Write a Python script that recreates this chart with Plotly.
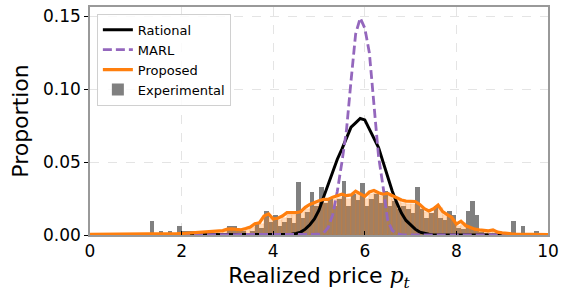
import plotly.graph_objects as go

# ---------------- data ----------------
bin_width = 0.1
# Experimental histogram (proportion per 0.1 bin, bins start at 0.0)
experimental = [
    0, 0, 0, 0, 0, 0, 0, 0, 0, 0,
    0, 0, 0, 0.0096, 0, 0.0027, 0, 0.0027, 0, 0.0062,
    0.0027, 0.0027, 0.0027, 0, 0, 0.0014, 0, 0.0014, 0, 0,
    0.0062, 0.0062, 0.0027, 0.0027, 0, 0.0027, 0.0078, 0.005, 0.0164, 0.009,
    0.0135, 0.006, 0.009, 0.012, 0.008, 0.0363, 0.012, 0.016, 0.0295, 0.02,
    0.033, 0.022, 0.025, 0.02, 0.025, 0.037, 0.02, 0.028, 0.024, 0.036,
    0.02, 0.025, 0.028, 0.022, 0.03, 0.02, 0.023, 0.018, 0.02, 0.018,
    0.015, 0.033, 0.018, 0.012, 0.015, 0.02, 0.012, 0.01, 0.0164, 0.0135,
    0.005, 0.004, 0.0164, 0.0233, 0.0135, 0.002, 0.001, 0, 0, 0,
    0, 0, 0.0096, 0, 0.0062, 0, 0, 0.0027, 0, 0,
]
# Proposed model histogram (proportion per 0.1 bin)
proposed_hist = [
    0, 0, 0, 0, 0, 0, 0, 0, 0, 0,
    0, 0, 0, 0, 0, 0, 0, 0, 0, 0,
    0.001, 0.001, 0.0015, 0.0015, 0.002, 0.002, 0.002, 0.0025, 0.0025, 0.003,
    0.003, 0.0035, 0.003, 0.0035, 0.0045, 0.0055, 0.0065, 0.0075, 0.012, 0.012,
    0.0095, 0.0105, 0.012, 0.0135, 0.014, 0.014, 0.0155, 0.018, 0.0195, 0.021,
    0.0215, 0.0225, 0.023, 0.0245, 0.0255, 0.026, 0.025, 0.026, 0.028, 0.026,
    0.025, 0.028, 0.029, 0.027, 0.026, 0.0265, 0.025, 0.0235, 0.022, 0.0215,
    0.021, 0.0205, 0.0185, 0.016, 0.015, 0.017, 0.0185, 0.014, 0.0125, 0.01,
    0.0065, 0.008, 0.0055, 0.0045, 0.0035, 0.003, 0.0027, 0.0025, 0.003, 0.0018,
    0.0013, 0.0009, 0.0007, 0.0005, 0.0004, 0.0003, 0.0003, 0.0002, 0.0002, 0.0002,
]
# Proposed model curve, sampled every 0.1 from 0 to 10
proposed_line = [
    0.0004, 0.0004, 0.0004, 0.0004, 0.0004, 0.0004, 0.0004, 0.0004, 0.0004, 0.0004,
    0.0004, 0.0004, 0.0004, 0.0004, 0.0004, 0.0005, 0.0006, 0.0007, 0.0008, 0.0009,
    0.001, 0.0012, 0.0015, 0.0018, 0.002, 0.0022, 0.0025, 0.0025, 0.0027, 0.003,
    0.004, 0.0042, 0.0038, 0.0036, 0.0045, 0.0055, 0.0078, 0.0084, 0.013, 0.0145,
    0.011, 0.0115, 0.013, 0.0153, 0.0153, 0.0153, 0.016, 0.019, 0.021, 0.0225,
    0.0235, 0.0244, 0.0244, 0.026, 0.027, 0.028, 0.027, 0.0275, 0.030, 0.028,
    0.0265, 0.0295, 0.0305, 0.029, 0.028, 0.0285, 0.027, 0.0255, 0.024, 0.0233,
    0.023, 0.023, 0.021, 0.018, 0.0165, 0.018, 0.0205, 0.016, 0.014, 0.012,
    0.0075, 0.0095, 0.0065, 0.005, 0.004, 0.0035, 0.003, 0.0028, 0.0035, 0.002,
    0.0015, 0.001, 0.0008, 0.0006, 0.0005, 0.0004, 0.0004, 0.0003, 0.0003, 0.0003,
    0.0003,
]
rational_price = [0.0, 4.3, 4.4, 4.5, 4.6, 4.7, 4.8, 4.9, 5.0, 5.1, 5.2, 5.3, 5.4, 5.5,
                  5.6, 5.7, 5.8, 5.9, 6.0, 6.1, 6.2, 6.3, 6.4, 6.5, 6.6, 6.7, 6.8, 6.9,
                  7.0, 7.1, 7.2, 7.3, 7.4, 7.5, 10.0]
rational_prop = [0, 0, 0.0005, 0.001, 0.002, 0.004, 0.007, 0.011, 0.017, 0.026, 0.035,
                 0.044, 0.052, 0.059, 0.067, 0.074, 0.077, 0.080, 0.079, 0.073, 0.066,
                 0.060, 0.050, 0.040, 0.030, 0.022, 0.015, 0.010, 0.007, 0.004, 0.002,
                 0.001, 0.0005, 0, 0]
marl_price = [0.0, 4.9, 5.0, 5.1, 5.2, 5.3, 5.4, 5.5, 5.6, 5.7, 5.8, 5.9, 6.0, 6.1,
              6.2, 6.3, 6.4, 6.5, 6.6, 6.7, 6.8, 6.9, 10.0]
marl_prop = [0, 0, 0.0005, 0.0015, 0.005, 0.014, 0.03, 0.05, 0.072, 0.106, 0.138, 0.149,
             0.142, 0.125, 0.088, 0.054, 0.033, 0.01, 0.003, 0.001, 0.0003, 0, 0]

x_ticks = [0, 2, 4, 6, 8, 10]
y_ticks = [0.0, 0.05, 0.10, 0.15]
y_ticktext = ["0.00", "0.05", "0.10", "0.15"]

bin_centers = [round(bin_width * (i + 0.5), 3) for i in range(len(experimental))]
line_x = [round(bin_width * i, 3) for i in range(len(proposed_line))]

ORANGE = "#ff7f0e"
PURPLE = "#9467bd"
FONT = "DejaVu Sans"

fig = go.Figure()
fig.add_trace(go.Bar(
    x=bin_centers, y=experimental, width=bin_width, name="Experimental",
    marker=dict(color="#808080", line=dict(width=0)), legendrank=4,
))
fig.add_trace(go.Bar(
    x=bin_centers, y=proposed_hist, width=bin_width, showlegend=False,
    marker=dict(color="rgba(255,127,14,0.28)", line=dict(color="rgba(255,127,14,0.3)", width=0.5)),
))
fig.add_trace(go.Scatter(
    x=rational_price, y=rational_prop, mode="lines", name="Rational",
    line=dict(color="black", width=3), legendrank=1,
))
fig.add_trace(go.Scatter(
    x=marl_price, y=marl_prop, mode="lines", name="MARL",
    line=dict(color=PURPLE, width=2.8, dash="9px,4px"), legendrank=2,
))
fig.add_trace(go.Scatter(
    x=line_x, y=proposed_line, mode="lines", name="Proposed",
    line=dict(color=ORANGE, width=3.2), legendrank=3,
))

fig.update_layout(
    width=564, height=292,
    margin=dict(l=90, r=12, t=5, b=57),
    plot_bgcolor="white", paper_bgcolor="white",
    barmode="overlay", bargap=0,
    font=dict(family=FONT, color="black"),
    legend=dict(
        x=0.015, y=0.97, xanchor="left", yanchor="top",
        bgcolor="rgba(255,255,255,0.85)", bordercolor="#d0d0d0", borderwidth=1,
        font=dict(size=13, family=FONT), tracegroupgap=0, itemwidth=30,
    ),
)
fig.update_xaxes(
    range=[0, 10], tickvals=x_ticks, ticks="inside", ticklen=4, tickcolor="black",
    showline=True, mirror=True, linecolor="#999999", linewidth=1.5,
    showgrid=True, gridcolor="#e4e4e4", griddash="dash", gridwidth=1, zeroline=False,
    tickfont=dict(size=17, family=FONT),
    title=dict(text="Realized price <span style=\"font-family:'DejaVu Serif';\"><i>p</i><sub><i>t</i></sub></span>",
               font=dict(size=22, family=FONT), standoff=10),
)
fig.update_yaxes(
    range=[0, 0.1565], tickvals=y_ticks, ticktext=y_ticktext, ticks="outside", ticklen=4,
    tickcolor="black",
    showline=True, mirror=True, linecolor="#999999", linewidth=1.5,
    showgrid=True, gridcolor="#e4e4e4", griddash="dash", gridwidth=1, zeroline=False,
    tickfont=dict(size=17, family=FONT),
    title=dict(text="Proportion", font=dict(size=22, family=FONT), standoff=8),
)

fig.write_html("out.html", config={"displayModeBar": False},
               post_script="document.body.style.margin='0';document.body.style.padding='0';")
